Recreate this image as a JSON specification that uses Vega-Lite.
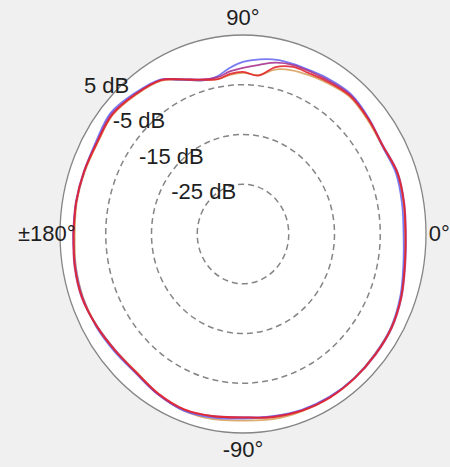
{
  "$schema": "https://vega.github.io/schema/vega-lite/v6.json",
  "width": 366,
  "height": 398,
  "autosize": {"type": "none"},
  "padding": {"left": 60, "top": 35, "right": 24, "bottom": 34},
  "background": "#f0f0f0",
  "config": {"view": {"stroke": null}, "text": {"font": "Liberation Sans"}},
  "datasets": {
    "rings": [{"db": 5}, {"db": -5}, {"db": -15}, {"db": -25}],
    "anglelabels": [
      {"label": "0°", "a": 0},
      {"label": "90°", "a": 90},
      {"label": "±180°", "a": 180},
      {"label": "-90°", "a": -90}
    ],
    "curves": [
      {"s": "D", "a": -180, "db": 1.8}, {"s": "D", "a": -170, "db": 2.1}, {"s": "D", "a": -160, "db": 2.2}, {"s": "D", "a": -150, "db": 1.9}, {"s": "D", "a": -140, "db": 1.4}, {"s": "D", "a": -130, "db": 1.2}, {"s": "D", "a": -120, "db": 2.1}, {"s": "D", "a": -110, "db": 2.8}, {"s": "D", "a": -100, "db": 2.8}, {"s": "D", "a": -90, "db": 2.5}, {"s": "D", "a": -80, "db": 2.8}, {"s": "D", "a": -70, "db": 2.9}, {"s": "D", "a": -60, "db": 2.9}, {"s": "D", "a": -50, "db": 2.8}, {"s": "D", "a": -40, "db": 2.6}, {"s": "D", "a": -30, "db": 2.4}, {"s": "D", "a": -20, "db": 1.7}, {"s": "D", "a": -10, "db": 0.8}, {"s": "D", "a": 0, "db": 0.4}, {"s": "D", "a": 10, "db": 0.6}, {"s": "D", "a": 20, "db": 0.8}, {"s": "D", "a": 30, "db": 0.2}, {"s": "D", "a": 40, "db": 0.6}, {"s": "D", "a": 50, "db": 1.1}, {"s": "D", "a": 60, "db": 0.4}, {"s": "D", "a": 66, "db": 0.0}, {"s": "D", "a": 72, "db": -0.4}, {"s": "D", "a": 78, "db": -1.2}, {"s": "D", "a": 84, "db": -2.9}, {"s": "D", "a": 90, "db": -2.6}, {"s": "D", "a": 95, "db": -2.9}, {"s": "D", "a": 100, "db": -3.4}, {"s": "D", "a": 105, "db": -3.0}, {"s": "D", "a": 110, "db": -2.1}, {"s": "D", "a": 115, "db": -0.8}, {"s": "D", "a": 120, "db": 0.6}, {"s": "D", "a": 130, "db": 1.5}, {"s": "D", "a": 140, "db": 2.2}, {"s": "D", "a": 150, "db": 1.7}, {"s": "D", "a": 160, "db": 1.8}, {"s": "D", "a": 170, "db": 1.9}, {"s": "D", "a": 180, "db": 1.8},
      {"s": "B", "a": -180, "db": 2.1}, {"s": "B", "a": -170, "db": 2.2}, {"s": "B", "a": -160, "db": 2.3}, {"s": "B", "a": -150, "db": 2.1}, {"s": "B", "a": -140, "db": 1.7}, {"s": "B", "a": -130, "db": 1.5}, {"s": "B", "a": -120, "db": 2.2}, {"s": "B", "a": -110, "db": 2.8}, {"s": "B", "a": -100, "db": 2.5}, {"s": "B", "a": -90, "db": 2.1}, {"s": "B", "a": -80, "db": 2.2}, {"s": "B", "a": -70, "db": 2.6}, {"s": "B", "a": -60, "db": 2.8}, {"s": "B", "a": -50, "db": 2.8}, {"s": "B", "a": -40, "db": 2.6}, {"s": "B", "a": -30, "db": 2.4}, {"s": "B", "a": -20, "db": 1.6}, {"s": "B", "a": -10, "db": 0.6}, {"s": "B", "a": 0, "db": 0.1}, {"s": "B", "a": 10, "db": 0.3}, {"s": "B", "a": 20, "db": 0.6}, {"s": "B", "a": 30, "db": 0.2}, {"s": "B", "a": 40, "db": 1.0}, {"s": "B", "a": 50, "db": 1.7}, {"s": "B", "a": 60, "db": 1.3}, {"s": "B", "a": 66, "db": 1.0}, {"s": "B", "a": 72, "db": 0.9}, {"s": "B", "a": 78, "db": 0.8}, {"s": "B", "a": 84, "db": 0.3}, {"s": "B", "a": 90, "db": -0.4}, {"s": "B", "a": 95, "db": -1.5}, {"s": "B", "a": 100, "db": -2.8}, {"s": "B", "a": 105, "db": -3.0}, {"s": "B", "a": 110, "db": -2.1}, {"s": "B", "a": 115, "db": -0.8}, {"s": "B", "a": 120, "db": 0.9}, {"s": "B", "a": 130, "db": 1.9}, {"s": "B", "a": 140, "db": 2.8}, {"s": "B", "a": 150, "db": 2.1}, {"s": "B", "a": 160, "db": 1.9}, {"s": "B", "a": 170, "db": 2.0}, {"s": "B", "a": 180, "db": 2.1},
      {"s": "M", "a": -180, "db": 2.1}, {"s": "M", "a": -170, "db": 2.4}, {"s": "M", "a": -160, "db": 2.5}, {"s": "M", "a": -150, "db": 1.9}, {"s": "M", "a": -140, "db": 1.4}, {"s": "M", "a": -130, "db": 1.4}, {"s": "M", "a": -120, "db": 2.2}, {"s": "M", "a": -110, "db": 2.6}, {"s": "M", "a": -100, "db": 2.2}, {"s": "M", "a": -90, "db": 1.8}, {"s": "M", "a": -80, "db": 2.3}, {"s": "M", "a": -70, "db": 2.7}, {"s": "M", "a": -60, "db": 2.9}, {"s": "M", "a": -50, "db": 2.9}, {"s": "M", "a": -40, "db": 2.8}, {"s": "M", "a": -30, "db": 2.6}, {"s": "M", "a": -20, "db": 1.9}, {"s": "M", "a": -10, "db": 1.0}, {"s": "M", "a": 0, "db": 0.6}, {"s": "M", "a": 10, "db": 0.8}, {"s": "M", "a": 20, "db": 1.0}, {"s": "M", "a": 30, "db": 0.4}, {"s": "M", "a": 40, "db": 0.9}, {"s": "M", "a": 50, "db": 1.5}, {"s": "M", "a": 60, "db": 1.0}, {"s": "M", "a": 66, "db": 0.8}, {"s": "M", "a": 72, "db": 0.7}, {"s": "M", "a": 78, "db": 0.2}, {"s": "M", "a": 84, "db": -0.8}, {"s": "M", "a": 90, "db": -1.6}, {"s": "M", "a": 95, "db": -2.2}, {"s": "M", "a": 100, "db": -3.0}, {"s": "M", "a": 105, "db": -2.8}, {"s": "M", "a": 110, "db": -1.9}, {"s": "M", "a": 115, "db": -0.6}, {"s": "M", "a": 120, "db": 0.8}, {"s": "M", "a": 130, "db": 1.7}, {"s": "M", "a": 140, "db": 2.5}, {"s": "M", "a": 150, "db": 1.9}, {"s": "M", "a": 160, "db": 2.0}, {"s": "M", "a": 170, "db": 2.1}, {"s": "M", "a": 180, "db": 2.1},
      {"s": "R", "a": -180, "db": 2.0}, {"s": "R", "a": -170, "db": 2.3}, {"s": "R", "a": -160, "db": 2.4}, {"s": "R", "a": -150, "db": 2.0}, {"s": "R", "a": -140, "db": 1.5}, {"s": "R", "a": -130, "db": 1.3}, {"s": "R", "a": -120, "db": 2.0}, {"s": "R", "a": -110, "db": 2.5}, {"s": "R", "a": -100, "db": 2.2}, {"s": "R", "a": -90, "db": 1.9}, {"s": "R", "a": -80, "db": 2.4}, {"s": "R", "a": -70, "db": 2.8}, {"s": "R", "a": -60, "db": 3.0}, {"s": "R", "a": -50, "db": 2.9}, {"s": "R", "a": -40, "db": 2.7}, {"s": "R", "a": -30, "db": 2.5}, {"s": "R", "a": -20, "db": 1.8}, {"s": "R", "a": -10, "db": 0.9}, {"s": "R", "a": 0, "db": 0.5}, {"s": "R", "a": 10, "db": 0.7}, {"s": "R", "a": 20, "db": 0.9}, {"s": "R", "a": 30, "db": 0.3}, {"s": "R", "a": 40, "db": 0.8}, {"s": "R", "a": 50, "db": 1.3}, {"s": "R", "a": 60, "db": 0.7}, {"s": "R", "a": 66, "db": 0.4}, {"s": "R", "a": 72, "db": 0.3}, {"s": "R", "a": 78, "db": -0.7}, {"s": "R", "a": 84, "db": -3.0}, {"s": "R", "a": 90, "db": -2.4}, {"s": "R", "a": 95, "db": -2.7}, {"s": "R", "a": 100, "db": -3.4}, {"s": "R", "a": 105, "db": -2.9}, {"s": "R", "a": 110, "db": -2.0}, {"s": "R", "a": 115, "db": -0.7}, {"s": "R", "a": 120, "db": 0.7}, {"s": "R", "a": 130, "db": 1.6}, {"s": "R", "a": 140, "db": 2.3}, {"s": "R", "a": 150, "db": 1.8}, {"s": "R", "a": 160, "db": 1.9}, {"s": "R", "a": 170, "db": 2.0}, {"s": "R", "a": 180, "db": 2.0}
    ]
  },
  "resolve": {"scale": {"size": "shared"}},
  "layer": [
    {
      "data": {"name": "rings"},
      "transform": [{"filter": "datum.db == 5"}, {"calculate": "datum.db + 35", "as": "r"}],
      "mark": {
        "type": "point",
        "shape": "M -1 0 C -1 -0.6006 -0.5523 -1.0874 0 -1.0874 C 0.5523 -1.0874 1 -0.6006 1 0 C 1 0.6006 0.5523 1.0874 0 1.0874 C -0.5523 1.0874 -1 0.6006 -1 0 Z",
        "filled": true,
        "fill": "white",
        "stroke": "#858585",
        "strokeWidth": 1.3,
        "opacity": 1
      },
      "encoding": {
        "x": {"datum": 0, "type": "quantitative", "scale": {"domain": [-40, 40], "nice": false, "zero": false}, "axis": null},
        "y": {"datum": 0, "type": "quantitative", "scale": {"domain": [-40, 40], "nice": false, "zero": false}, "axis": null},
        "size": {"field": "r", "type": "quantitative", "scale": {"type": "pow", "exponent": 2, "domain": [0, 40], "range": [0, 133956]}, "legend": null}
      }
    },
    {
      "data": {"name": "rings"},
      "transform": [{"filter": "datum.db < 5"}, {"calculate": "datum.db + 35", "as": "r"}],
      "mark": {
        "type": "point",
        "shape": "M -1 0 C -1 -0.6006 -0.5523 -1.0874 0 -1.0874 C 0.5523 -1.0874 1 -0.6006 1 0 C 1 0.6006 0.5523 1.0874 0 1.0874 C -0.5523 1.0874 -1 0.6006 -1 0 Z",
        "filled": false,
        "stroke": "#858585",
        "strokeWidth": 1.5,
        "strokeDash": [6, 4],
        "opacity": 1
      },
      "encoding": {
        "x": {"datum": 0, "type": "quantitative"},
        "y": {"datum": 0, "type": "quantitative"},
        "size": {"field": "r", "type": "quantitative", "legend": null}
      }
    },
    {
      "mark": {"type": "rule", "stroke": "#858585", "strokeWidth": 1.5, "strokeDash": [6, 4]},
      "encoding": {"y": {"datum": 0, "type": "quantitative"}}
    },
    {
      "mark": {"type": "rule", "stroke": "#858585", "strokeWidth": 1.5, "strokeDash": [6, 4]},
      "encoding": {"x": {"datum": 0, "type": "quantitative"}}
    },
    {
      "data": {"name": "curves"},
      "transform": [
        {"calculate": "(datum.db + 35) * cos(datum.a * PI / 180)", "as": "px"},
        {"calculate": "(datum.db + 35) * sin(datum.a * PI / 180)", "as": "py"}
      ],
      "mark": {"type": "line", "strokeWidth": 1.8, "interpolate": "catmull-rom", "opacity": 0.9},
      "encoding": {
        "x": {"field": "px", "type": "quantitative"},
        "y": {"field": "py", "type": "quantitative"},
        "order": {"field": "a", "type": "quantitative"},
        "color": {"field": "s", "type": "nominal", "scale": {"domain": ["D", "B", "M", "R"], "range": ["#d9a35f", "#6a6af2", "#a8348e", "#e2262d"]}, "legend": null}
      }
    },
    {
      "data": {"name": "anglelabels"},
      "transform": [
        {"calculate": "42.9 * cos(datum.a * PI / 180)", "as": "px"},
        {"calculate": "43.5 * sin(datum.a * PI / 180)", "as": "py"}
      ],
      "mark": {"type": "text", "fontSize": 22, "color": "#1e1e1e", "align": "center", "baseline": "middle"},
      "encoding": {
        "x": {"field": "px", "type": "quantitative"},
        "y": {"field": "py", "type": "quantitative"},
        "text": {"field": "label"}
      }
    },
    {
      "data": {"name": "rings"},
      "transform": [
        {"calculate": "datum.db + ' dB'", "as": "label"},
        {"calculate": "(datum.db + 35) * cos(135 * PI / 180)", "as": "px"},
        {"calculate": "(datum.db + 35) * sin(135 * PI / 180)", "as": "py"}
      ],
      "mark": {"type": "text", "fontSize": 22, "color": "#1e1e1e", "align": "center", "baseline": "middle", "dx": -7, "dy": -7},
      "encoding": {
        "x": {"field": "px", "type": "quantitative"},
        "y": {"field": "py", "type": "quantitative"},
        "text": {"field": "label"}
      }
    }
  ]
}
